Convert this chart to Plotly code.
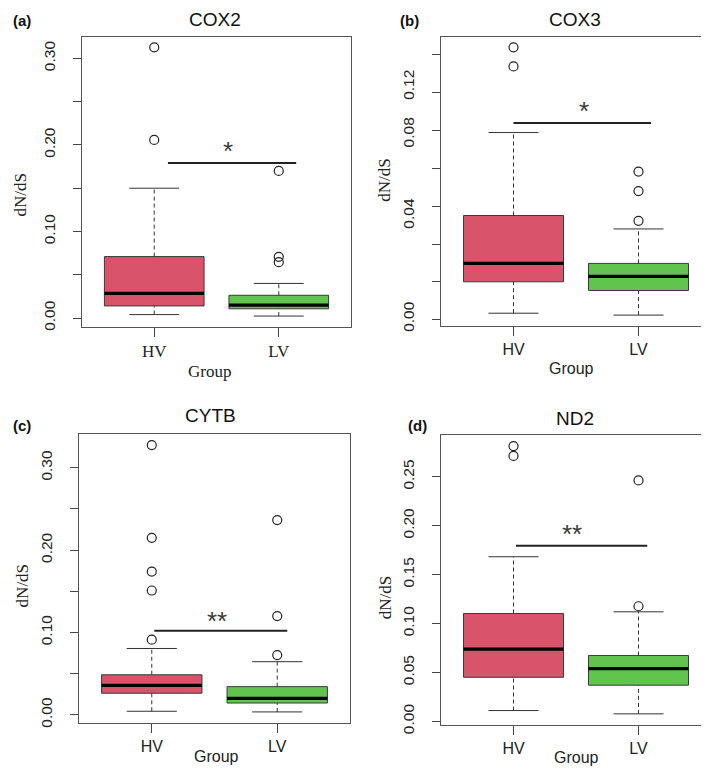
import plotly.graph_objects as go

W, H = 709, 770

groups = ["HV", "LV"]
genes = ["COX2", "COX3", "CYTB", "ND2"]
letters = ["(a)", "(b)", "(c)", "(d)"]

# box statistics: [lower whisker, Q1, median, Q3, upper whisker]
cox2_hv = [0.0040, 0.0140, 0.0286, 0.0710, 0.1500]
cox2_lv = [0.0023, 0.0107, 0.0149, 0.0263, 0.0400]
cox2_hv_out = [0.2058, 0.3127]
cox2_lv_out = [0.0645, 0.0707, 0.1700]

cox3_hv = [0.0035, 0.0201, 0.0298, 0.0551, 0.0989]
cox3_lv = [0.0025, 0.0155, 0.0230, 0.0298, 0.0480]
cox3_hv_out = [0.1338, 0.1439]
cox3_lv_out = [0.0523, 0.0680, 0.0783]

cytb_hv = [0.0044, 0.0263, 0.0359, 0.0487, 0.0806]
cytb_lv = [0.0036, 0.0144, 0.0200, 0.0343, 0.0646]
cytb_hv_out = [0.0913, 0.1510, 0.1740, 0.2150, 0.3276]
cytb_lv_out = [0.0726, 0.1200, 0.2365]

nd2_hv = [0.0111, 0.0451, 0.0739, 0.1103, 0.1683]
nd2_lv = [0.0077, 0.0370, 0.0540, 0.0674, 0.1120]
nd2_hv_out = [0.2713, 0.2814]
nd2_lv_out = [0.1177, 0.2463]

# significance bars: [x start, x end, y], star y, label
sig_bars = [[1.11, 2.14, 0.179], [1.00, 2.10, 0.1039], [1.02, 2.08, 0.1021], [1.02, 2.07, 0.1795]]
sig_star_x = [1.59, 1.56, 1.52, 1.47]
sig_star_y = [0.196, 0.112, 0.118, 0.195]
sig_labels = ["*", "*", "**", "**"]

# y tick values / labels
ytick_vals = [
    [0.00, 0.05, 0.10, 0.15, 0.20, 0.25, 0.30],
    [0.00, 0.02, 0.04, 0.06, 0.08, 0.10, 0.12, 0.14],
    [0.00, 0.05, 0.10, 0.15, 0.20, 0.25, 0.30],
    [0.00, 0.05, 0.10, 0.15, 0.20, 0.25],
]
ytick_text = [
    ["0.00", "", "0.10", "", "0.20", "", "0.30"],
    None,
    ["0.00", "", "0.10", "", "0.20", "", "0.30"],
    ["0.00", "0.05", "0.10", "0.15", "0.20", "0.25"],
]
# COX3 labels are printed offset from its tick marks in the source figure
cox3_label_pos = [0.0004, 0.0549, 0.0978, 0.1229]
cox3_label_text = ["0.00", "0.04", "0.08", "0.12"]

stats = [(cox2_hv, cox2_lv), (cox3_hv, cox3_lv), (cytb_hv, cytb_lv), (nd2_hv, nd2_lv)]
outs = [(cox2_hv_out, cox2_lv_out), (cox3_hv_out, cox3_lv_out),
        (cytb_hv_out, cytb_lv_out), (nd2_hv_out, nd2_lv_out)]

colors = ["#D9536B", "#61C44F"]
serif = "Liberation Serif, Times New Roman, serif"
sans = "Liberation Sans, Arial, sans-serif"

# panel geometry in pixels: left, right, top, bottom
panels = [(74, 343, 29, 323), (433, 703, 29, 322), (71, 342, 432, 724), (433, 703, 433, 726)]
title_pos = [(207, 12), (567, 12), (202, 413), (567, 416)]
letter_pos = [(3, 13), (390, 13), (3, 423), (398, 423)]
ylab_pos = [(13, 190), (377, 174), (14, 586), (377, 597)]
group_pos = [(201, 368), (563, 365), (208, 758), (568, 759)]
ylab_font = [serif, serif, serif, serif]
xtick_font = [dict(family=serif, size=17, color="#222"), dict(family=sans, size=16, color="#222"),
              dict(family=sans, size=16, color="#222"), dict(family=sans, size=16, color="#222")]
group_font = [dict(family=serif, size=17, color="#222"), dict(family=sans, size=16, color="#222"),
              dict(family=sans, size=16, color="#222"), dict(family=sans, size=16, color="#222")]

fig = go.Figure()
layout = dict(width=W, height=H, margin=dict(l=0, r=0, t=0, b=0),
              paper_bgcolor="white", plot_bgcolor="white", showlegend=False)
annotations = []

for i in range(4):
    xa = "x" if i == 0 else f"x{i+1}"
    ya = "y" if i == 0 else f"y{i+1}"
    xkey = "xaxis" if i == 0 else f"xaxis{i+1}"
    ykey = "yaxis" if i == 0 else f"yaxis{i+1}"
    allv = []
    for g in range(2):
        s = stats[i][g]
        o = outs[i][g]
        allv += s + o
        c = g + 1
        hw = 0.4
        # box
        fig.add_trace(go.Scatter(
            x=[c - hw, c + hw, c + hw, c - hw, c - hw],
            y=[s[1], s[1], s[3], s[3], s[1]],
            fill="toself", fillcolor=colors[g], mode="lines",
            line=dict(color="#3a3a3a", width=1), xaxis=xa, yaxis=ya, hoverinfo="skip"))
        # whiskers
        for a, b in [(s[3], s[4]), (s[0], s[1])]:
            fig.add_trace(go.Scatter(x=[c, c], y=[a, b], mode="lines",
                                     line=dict(color="#333", width=1, dash="4px,3px"),
                                     xaxis=xa, yaxis=ya, hoverinfo="skip"))
        # staples
        for v in (s[0], s[4]):
            fig.add_trace(go.Scatter(x=[c - 0.2, c + 0.2], y=[v, v], mode="lines",
                                     line=dict(color="#333", width=1),
                                     xaxis=xa, yaxis=ya, hoverinfo="skip"))
        # median
        fig.add_trace(go.Scatter(x=[c - hw, c + hw], y=[s[2], s[2]], mode="lines",
                                 line=dict(color="black", width=3.2),
                                 xaxis=xa, yaxis=ya, hoverinfo="skip"))
        # outliers
        fig.add_trace(go.Scatter(x=[c] * len(o), y=o, mode="markers",
                                 marker=dict(symbol="circle-open", size=9, color="#222",
                                             line=dict(width=1.2)),
                                 xaxis=xa, yaxis=ya, hoverinfo="skip"))
    # significance bar
    sb = sig_bars[i]
    fig.add_trace(go.Scatter(x=[sb[0], sb[1]], y=[sb[2], sb[2]], mode="lines",
                             line=dict(color="#222", width=2), xaxis=xa, yaxis=ya,
                             hoverinfo="skip"))
    annotations.append(dict(x=sig_star_x[i], y=sig_star_y[i], xref=xa, yref=ya,
                            text=sig_labels[i], showarrow=False,
                            font=dict(family=sans, size=26, color="#3a3a3a"),
                            yanchor="middle", xanchor="center", yshift=-3))

    lo, hi = min(allv), max(allv)
    span = hi - lo
    yr = [lo - 0.04 * span, hi + 0.04 * span]

    L, R, T, B = panels[i]
    layout[xkey] = dict(domain=[L / W, R / W], range=[0.42, 2.58], anchor=ya,
                        tickmode="array", tickvals=[1, 2], ticktext=groups,
                        ticks="outside", ticklen=9, tickcolor="#444", tickwidth=1,
                        showline=True, linecolor="#555", linewidth=1.3, mirror=True,
                        showgrid=False, zeroline=False, tickfont=xtick_font[i],
                        fixedrange=True)
    ydict = dict(domain=[1 - B / H, 1 - T / H], range=yr, anchor=xa,
                 ticks="outside", ticklen=8, tickcolor="#444", tickwidth=1,
                 showline=True, linecolor="#555", linewidth=1.3, mirror=True,
                 showgrid=False, zeroline=False, tickangle=-90, ticklabelstandoff=12,
                 tickfont=dict(family=sans, size=15.5, color="#222"))
    if ytick_text[i] is not None:
        ydict.update(tickmode="array", tickvals=ytick_vals[i], ticktext=ytick_text[i])
    else:
        ydict.update(tickmode="array", tickvals=cox3_label_pos, ticktext=cox3_label_text,
                     tickcolor="rgba(0,0,0,0)",
                     minor=dict(tickmode="array", tickvals=ytick_vals[i], ticks="outside",
                                ticklen=8, tickcolor="#444", tickwidth=1, showgrid=False))
    layout[ykey] = ydict

    tx, ty = title_pos[i]
    annotations.append(dict(x=tx / W, y=1 - ty / H, xref="paper", yref="paper",
                            text=genes[i], showarrow=False, xanchor="center", yanchor="middle",
                            font=dict(family=sans, size=19, color="#111")))
    lx, ly = letter_pos[i]
    annotations.append(dict(x=lx / W, y=1 - ly / H, xref="paper", yref="paper",
                            text="<b>" + letters[i] + "</b>", showarrow=False,
                            xanchor="left", yanchor="middle",
                            font=dict(family=sans, size=15, color="#111")))
    yx, yy = ylab_pos[i]
    annotations.append(dict(x=yx / W, y=1 - yy / H, xref="paper", yref="paper",
                            text="dN/dS", showarrow=False, textangle=-90,
                            xanchor="center", yanchor="middle",
                            font=dict(family=ylab_font[i], size=17, color="#222")))
    gx, gy = group_pos[i]
    annotations.append(dict(x=gx / W, y=1 - gy / H, xref="paper", yref="paper",
                            text="Group", showarrow=False, xanchor="center", yanchor="middle",
                            font=group_font[i]))

layout["annotations"] = annotations
fig.update_layout(**layout)
fig.write_html("out.html")
